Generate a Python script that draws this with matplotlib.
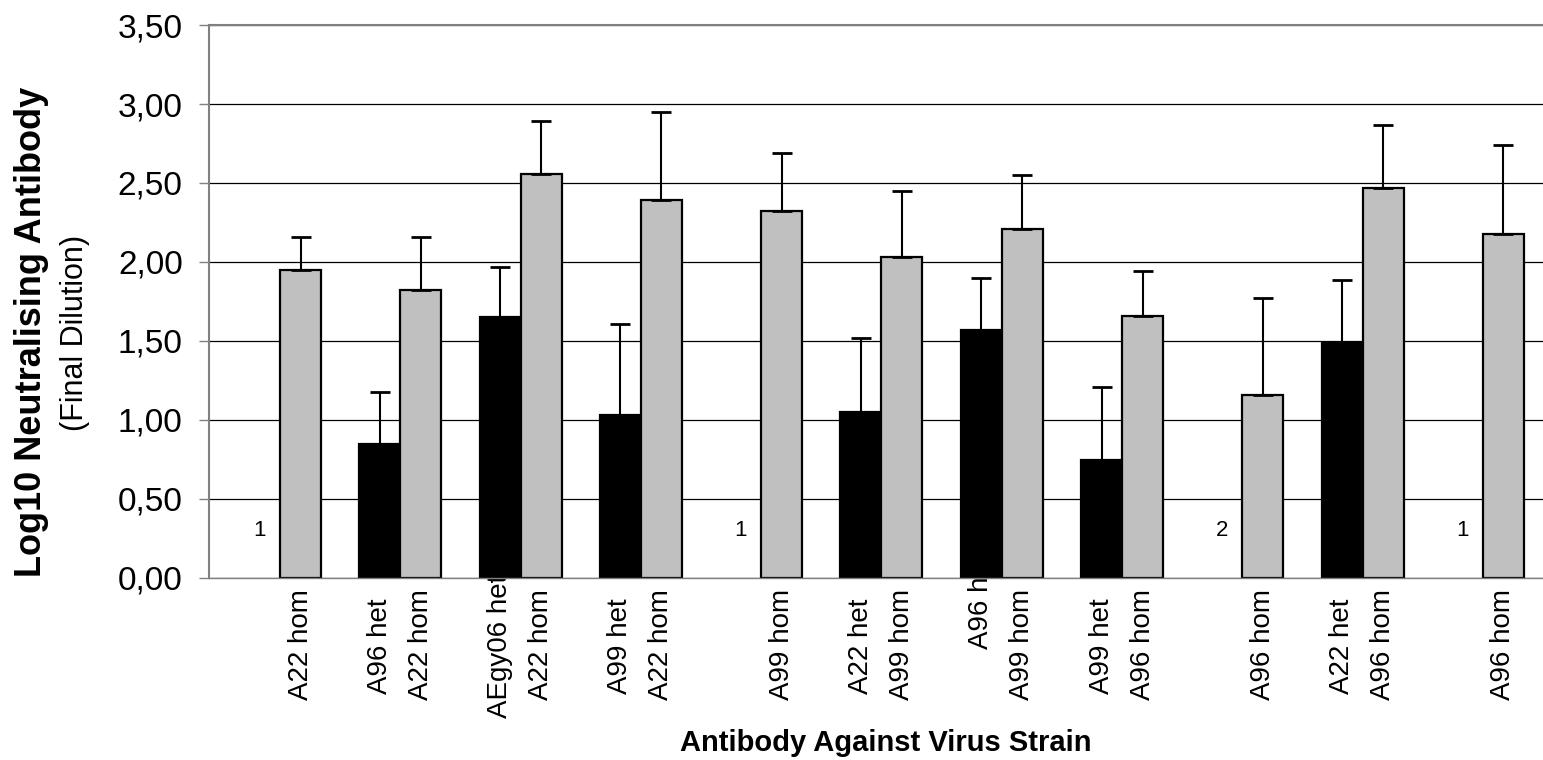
import numpy as np
import matplotlib.pyplot as plt
import matplotlib.transforms as mtransforms
from matplotlib.ticker import FuncFormatter

plt.rcParams['font.family'] = ['Liberation Sans', 'DejaVu Sans']

# labels under each bar (None = no het bar in that group)
het_labels = [None, 'A96 het', 'AEgy06 het', 'A99 het', None, 'A22 het',
              'A96 het', 'A99 het', None, 'A22 het', None]
hom_labels = ['A22 hom', 'A22 hom', 'A22 hom', 'A22 hom', 'A99 hom', 'A99 hom',
              'A99 hom', 'A96 hom', 'A96 hom', 'A96 hom', 'A96 hom']

# log10 neutralising antibody, mean and upper SD
het_mean = np.array([np.nan, 0.85, 1.65, 1.03, np.nan, 1.05, 1.57, 0.745, np.nan, 1.485, np.nan])
het_sd = np.array([np.nan, 0.33, 0.32, 0.58, np.nan, 0.47, 0.33, 0.465, np.nan, 0.40, np.nan])
hom_mean = np.array([1.95, 1.82, 2.56, 2.39, 2.32, 2.03, 2.21, 1.66, 1.16, 2.47, 2.18])
hom_sd = np.array([0.21, 0.34, 0.33, 0.56, 0.37, 0.42, 0.34, 0.28, 0.61, 0.40, 0.56])

# numbers written where the het bar is missing
n_labels = ['1', None, None, None, '1', None, None, None, '2', None, '1']

x = np.arange(len(hom_labels))
w = 0.341
has_het = ~np.isnan(het_mean)

fig = plt.figure(figsize=(15.43, 7.6), dpi=100)
ax = fig.add_axes([0.1355, 0.2395, 0.8645, 0.7276])

ax.bar(x[has_het] - w / 2, het_mean[has_het], w, color='black', edgecolor='black', lw=1.6, zorder=2)
ax.bar(x + w / 2, hom_mean, w, color='#C0C0C0', edgecolor='black', lw=1.6, zorder=2)

ax.errorbar(x[has_het] - w / 2, het_mean[has_het],
            yerr=[np.zeros(has_het.sum()), het_sd[has_het]],
            fmt='none', ecolor='black', elinewidth=1.5, capsize=7, capthick=2, zorder=3)
ax.errorbar(x + w / 2, hom_mean, yerr=[np.zeros(len(x)), hom_sd],
            fmt='none', ecolor='black', elinewidth=1.5, capsize=7, capthick=2, zorder=3)

for i, n in enumerate(n_labels):
    if n:
        ax.text(x[i] - w / 2, 0.30, n, ha='center', va='center', fontsize=16)

ax.set_xlim(-0.59, 10.5)
ax.set_ylim(0, 3.5)
ax.set_yticks(np.arange(0, 3.51, 0.5))
ax.yaxis.set_major_formatter(FuncFormatter(lambda v, p: f'{v:.2f}'.replace('.', ',')))
ax.set_xticks([])
ax.tick_params(axis='y', direction='out', length=7, width=1, color='#808080', labelsize=24, pad=12)

ax.yaxis.grid(True, color='black', lw=0.9)
ax.set_axisbelow(True)

ax.spines['right'].set_visible(False)
ax.spines['left'].set_color('#808080')
ax.spines['left'].set_linewidth(1.5)
ax.spines['top'].set_color('#808080')
ax.spines['top'].set_linewidth(1.5)
ax.spines['bottom'].set_color('#808080')
ax.spines['bottom'].set_linewidth(1.0)

# rotated bar labels below the axis
trans = mtransforms.blended_transform_factory(ax.transData, ax.transAxes)
het_nudge = {6: 32}  # this one sits higher and is partly hidden behind its bar
for i in range(len(x)):
    if het_labels[i]:
        ax.annotate(het_labels[i], xy=(x[i] - w / 2, 0), xycoords=trans,
                    xytext=(0, -49 + het_nudge.get(i, 0)), textcoords='offset points',
                    rotation=90, ha='center', va='center', fontsize=20,
                    annotation_clip=False, zorder=1)
    ax.annotate(hom_labels[i], xy=(x[i] + w / 2, 0), xycoords=trans,
                xytext=(0, -48), textcoords='offset points',
                rotation=90, ha='center', va='center', fontsize=20,
                annotation_clip=False, zorder=1)

fig.text(32 / 1543, 1 - 332 / 760, 'Log10 Neutralising Antibody', rotation=90,
         fontsize=26, fontweight='bold', ha='center', va='center')
fig.text(75 / 1543, 1 - 333 / 760, '(Final Dilution)', rotation=90,
         fontsize=22, ha='center', va='center')
fig.text(886 / 1543, 1 - 743 / 760, 'Antibody Against Virus Strain',
         fontsize=21, fontweight='bold', ha='center', va='center')

fig.savefig('out.png', dpi=100)
